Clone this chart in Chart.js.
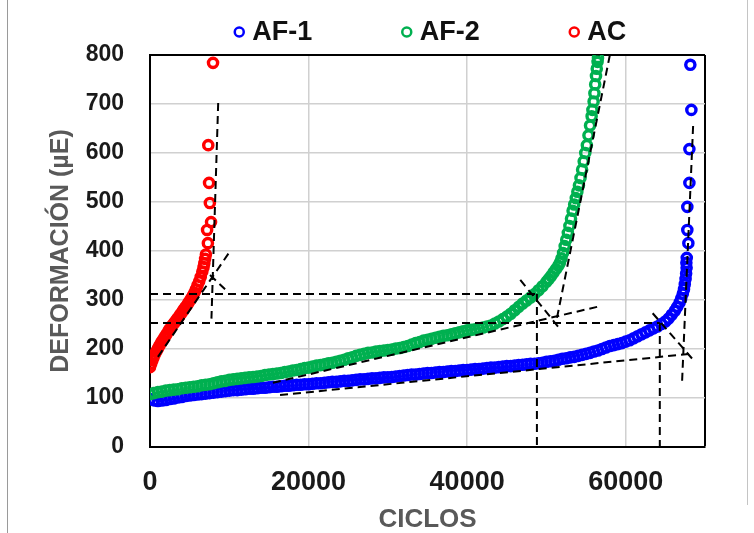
<!DOCTYPE html>
<html>
<head>
<meta charset="utf-8">
<script src="https://cdn.jsdelivr.net/npm/chart.js@4.4.0/dist/chart.umd.min.js"></script>
<style>
    html, body { margin: 0; padding: 0; background: #fff; }
    #marco { position: relative; width: 754px; height: 533px; }
    #marco::before { content: ''; position: absolute; left: 7px; top: 0; bottom: 0; border-left: 1px solid #9a9a9a; }
    #marco::after { content: ''; position: absolute; left: 747px; top: 0; height: 505px; border-left: 1px solid #c4c4c4; }
    canvas { position: absolute; left: 0; top: 0; }
</style>
</head>
<body>
<div id="marco"><canvas id="myChart" width="754" height="533"></canvas></div>
<script>
// ejes
const ticksCiclos = [0, 20000, 40000, 60000, 70000];
const ticksDef = [0, 100, 200, 300, 400, 500, 600, 700, 800];

// AF-1 (azul)
const af1Ciclos = [
    0, 500, 1000, 1500, 2000, 2500, 3000, 3500, 4000, 4500, 5000,
    5500, 6000, 6500, 7000, 7500, 8000, 8500, 9000, 9500, 10000,
    10500, 11000, 11500, 12000, 12500, 13000, 13500, 14000, 14500, 15000,
    15500, 16000, 16500, 17000, 17500, 18000, 18500, 19000, 19500, 20000,
    20500, 21000, 21500, 22000, 22500, 23000, 23500, 24000, 24500, 25000,
    25500, 26000, 26500, 27000, 27500, 28000, 28500, 29000, 29500, 30000,
    30500, 31000, 31500, 32000, 32500, 33000, 33500, 34000, 34500, 35000,
    35500, 36000, 36500, 37000, 37500, 38000, 38500, 39000, 39500, 40000,
    40500, 41000, 41500, 42000, 42500, 43000, 43500, 44000, 44500, 45000,
    45500, 46000, 46500, 47000, 47500, 48000, 48500, 49000, 49500, 50000,
    50500, 51000, 51500, 52000, 52500, 53000, 53500, 54000, 54500, 55000,
    55500, 56000, 56500, 57000, 57500, 58000, 58500, 59000, 59500, 60000,
    60500, 61000, 61500, 62000, 62500, 63000, 63500, 64000, 64500, 65000,
    65400, 65800, 66200, 66500, 66800, 67000, 67200, 67350, 67450, 67550, 67620, 67680,
    67650, 67700, 67900, 67770, 67770, 68030, 68030, 68280, 68150
];
const af1Def = [
    98, 95, 94, 95, 96, 98, 99, 101, 102, 104, 105,
    106, 107, 108, 109, 110, 111, 112, 113, 114, 115,
    116, 116, 117, 118, 119, 119, 120, 121, 121, 122,
    123, 123, 124, 125, 125, 126, 127, 127, 128, 128,
    129, 130, 130, 131, 132, 133, 133, 134, 135, 135,
    136, 137, 138, 138, 139, 140, 140, 141, 142, 142,
    143, 144, 145, 146, 147, 148, 148, 149, 150, 151,
    151, 152, 153, 153, 154, 155, 155, 156, 157, 157,
    158, 159, 159, 160, 161, 162, 162, 163, 164, 165,
    165, 166, 167, 168, 169, 170, 170, 171, 172, 174,
    175, 176, 178, 180, 181, 183, 184, 186, 188, 190,
    192, 195, 197, 200, 203, 206, 208, 210, 212, 215,
    218, 222, 226, 230, 234, 238, 242, 246, 251, 256,
    262, 270, 278, 286, 295, 303, 313, 322, 332, 343, 354, 366,
    376, 386, 416, 443, 490, 539, 608, 688, 780
];

// AF-2 (verde)
const af2Ciclos = [
    0, 500, 1000, 1500, 2000, 2500, 3000, 3500, 4000, 4500, 5000,
    5500, 6000, 6500, 7000, 7500, 8000, 8500, 9000, 9500, 10000,
    10500, 11000, 11500, 12000, 12500, 13000, 13500, 14000, 14500, 15000,
    15500, 16000, 16500, 17000, 17500, 18000, 18500, 19000, 19500, 20000,
    20500, 21000, 21500, 22000, 22500, 23000, 23500, 24000, 24500, 25000,
    25500, 26000, 26500, 27000, 27500, 28000, 28500, 29000, 29500, 30000,
    30500, 31000, 31500, 32000, 32500, 33000, 33500, 34000, 34500, 35000,
    35500, 36000, 36500, 37000, 37500, 38000, 38500, 39000, 39500, 40000,
    40500, 41000, 41500, 42000, 42500, 43000, 43500, 44000, 44500, 45000,
    45500, 46000, 46500, 47000, 47500, 48000, 48500, 49000, 49500, 50000,
    50300, 50600, 50900, 51200, 51500, 51700, 51900, 52100, 52300, 52500,
    52700, 52900, 53100, 53300, 53500, 53700, 53900, 54100, 54300, 54500,
    54700, 54900, 55100, 55300, 55500, 55700, 55800, 55950, 56050, 56150,
    56250, 56350, 56450, 56500
];
const af2Def = [
    108, 110, 112, 113, 115, 116, 117, 118, 120, 121, 122,
    123, 124, 126, 127, 128, 130, 132, 134, 135, 137,
    138, 139, 140, 141, 142, 143, 144, 145, 147, 148,
    149, 150, 151, 153, 154, 156, 157, 159, 161, 162,
    164, 166, 167, 169, 171, 172, 174, 176, 178, 181,
    183, 186, 188, 190, 192, 193, 195, 196, 197, 198,
    199, 201, 202, 204, 206, 209, 212, 214, 217, 219,
    221, 223, 225, 227, 228, 230, 232, 234, 236, 238,
    239, 240, 242, 244, 246, 248, 252, 256, 261, 266,
    272, 279, 286, 293, 299, 305, 312, 320, 328, 337,
    343, 349, 356, 363, 370, 376, 385, 396, 410, 423,
    437, 451, 466, 482, 495, 508, 521, 534, 549, 566,
    583, 600, 616, 636, 656, 675, 688, 705, 722, 740,
    757, 772, 786, 794
];

// AC (rojo)
const acCiclos = [
    0, 150, 300, 450, 600, 800, 1000, 1200, 1400, 1600, 1800, 2000,
    2200, 2400, 2600, 2800, 3000, 3200, 3400, 3600, 3800, 4000, 4200,
    4400, 4600, 4800, 5000, 5200, 5400, 5600, 5800, 6000, 6200, 6400,
    6600, 6750, 6850, 6950, 7050, 7300, 7200, 7700, 7550, 7450, 7350, 7950
];
const acDef = [
    163, 170, 177, 183, 189, 195, 201, 207, 213, 218, 223, 228,
    233, 239, 243, 248, 252, 256, 261, 265, 270, 274, 279,
    284, 288, 293, 298, 303, 309, 315, 322, 330, 338, 347,
    358, 367, 375, 384, 393, 416, 443, 459, 498, 539, 616, 784
];

// lineas auxiliares (tangentes y proyecciones), extremo inicial y final
const guiaCiclos = [
    [1000, 9900], [8600, 7750], [7570, 9470],
    [0, 48600], [48800, 48800], [15500, 56400], [58000, 51200], [46700, 51500],
    [0, 64300], [64300, 64300], [16400, 68100], [68500, 67100], [63400, 68500]
];
const guiaDef = [
    [184, 395], [702, 262], [351, 322],
    [312, 312], [312, 0], [131, 286], [800, 253], [341, 245],
    [253, 253], [253, 0], [106, 190], [655, 130], [273, 178]
];

const fuente = '"Liberation Sans", Arial, sans-serif';
Chart.defaults.font.family = fuente;

function puntos(xs, ys) {
    return xs.map(function(x, i) {
        return { x: x, y: ys[i] };
    });
}

function serie(label, xs, ys, color) {
    return {
        label: label,
        data: puntos(xs, ys),
        showLine: false,
        pointStyle: 'circle',
        pointRadius: 4.6,
        pointBorderWidth: 3.4,
        pointBorderColor: color,
        pointBackgroundColor: 'rgba(0,0,0,0)',
        borderColor: color,
        backgroundColor: 'rgba(0,0,0,0)',
        order: 1
    };
}

const af1 = serie('AF-1', af1Ciclos, af1Def, 'rgb(0, 0, 255)');
const af2 = serie('AF-2', af2Ciclos, af2Def, 'rgb(0, 176, 80)');
const ac = serie('AC', acCiclos, acDef, 'rgb(255, 0, 0)');

const guias = guiaCiclos.map(function(xs, i) {
    return {
        label: 'guia' + i,
        data: puntos(xs, guiaDef[i]),
        showLine: true,
        borderColor: '#000',
        borderWidth: 2,
        borderDash: [8, 5],
        pointRadius: 0,
        fill: false,
        order: 0
    };
});

// leyenda arriba del grafico
const leyendaSuperior = {
    id: 'leyendaSuperior',
    afterDraw(chart) {
        const { ctx, chartArea } = chart;
        const items = [af1, af2, ac];
        const r = 4.5, hueco = 13, sep = 90;
        ctx.save();
        ctx.font = 'bold 27px ' + fuente;
        ctx.textBaseline = 'middle';
        const anchos = items.map(function(d) { return ctx.measureText(d.label).width; });
        let total = sep * (items.length - 1);
        anchos.forEach(function(w) { total += r + hueco + w; });
        let x = (chartArea.left + chartArea.right) / 2 + 3 - total / 2;
        const y = 32;
        items.forEach(function(d, i) {
            ctx.beginPath();
            ctx.arc(x + r, y, r, 0, Math.PI * 2);
            ctx.lineWidth = 2.5;
            ctx.strokeStyle = d.pointBorderColor;
            ctx.stroke();
            ctx.fillStyle = '#111';
            ctx.fillText(d.label, x + r + hueco, y + 1);
            x += r + hueco + anchos[i] + sep;
        });
        ctx.restore();
    }
};

const ctx = document.getElementById('myChart').getContext('2d');

const chart = new Chart(ctx, {
    type: 'scatter',
    data: {
        datasets: guias.concat([ac, af2, af1])
    },
    options: {
        responsive: false,
        animation: false,
        layout: { padding: { top: 55, right: 49, left: 0, bottom: 0 } },
        plugins: {
            legend: { display: false },
            tooltip: { enabled: false }
        },
        scales: {
            x: {
                type: 'linear',
                min: 0,
                max: 70000,
                afterBuildTicks: function(axis) {
                    axis.ticks = ticksCiclos.map(function(v) { return { value: v }; });
                },
                afterFit: function(axis) {
                    axis.height = 86;
                },
                ticks: {
                    padding: 19,
                    color: '#1a1a1a',
                    font: { size: 27, weight: 'bold' },
                    maxRotation: 0,
                    callback: function(v) {
                        return v === 70000 ? '' : String(v);
                    }
                },
                grid: {
                    drawTicks: false,
                    color: function(c) {
                        return c.tick && c.tick.value === 70000 ? '#000' : 'rgb(208, 208, 208)';
                    },
                    lineWidth: function(c) {
                        return c.tick && c.tick.value === 70000 ? 2 : 1.5;
                    }
                },
                border: { color: '#000', width: 2 },
                title: {
                    display: true,
                    text: 'CICLOS',
                    color: '#595959',
                    font: { size: 26, weight: 'bold', lineHeight: 1 },
                    padding: { top: 0, bottom: 0 }
                }
            },
            y: {
                type: 'linear',
                min: 0,
                max: 800,
                afterBuildTicks: function(axis) {
                    axis.ticks = ticksDef.map(function(v) { return { value: v }; });
                },
                afterFit: function(axis) {
                    axis.width = 150;
                },
                ticks: {
                    padding: 26,
                    color: '#1a1a1a',
                    font: { size: 23, weight: 'bold' },
                    callback: function(v) { return String(v); }
                },
                grid: {
                    drawTicks: false,
                    color: function(c) {
                        return c.tick && c.tick.value === 800 ? '#000' : 'rgb(208, 208, 208)';
                    },
                    lineWidth: function(c) {
                        return c.tick && c.tick.value === 800 ? 2 : 1.5;
                    }
                },
                border: { color: '#000', width: 2 },
                title: {
                    display: true,
                    text: 'DEFORMACIÓN (µE)',
                    color: '#595959',
                    font: { size: 25, weight: 'bold' },
                    padding: { top: 46, bottom: 0 }
                }
            }
        }
    },
    plugins: [leyendaSuperior]
});
</script>
</body>
</html>
